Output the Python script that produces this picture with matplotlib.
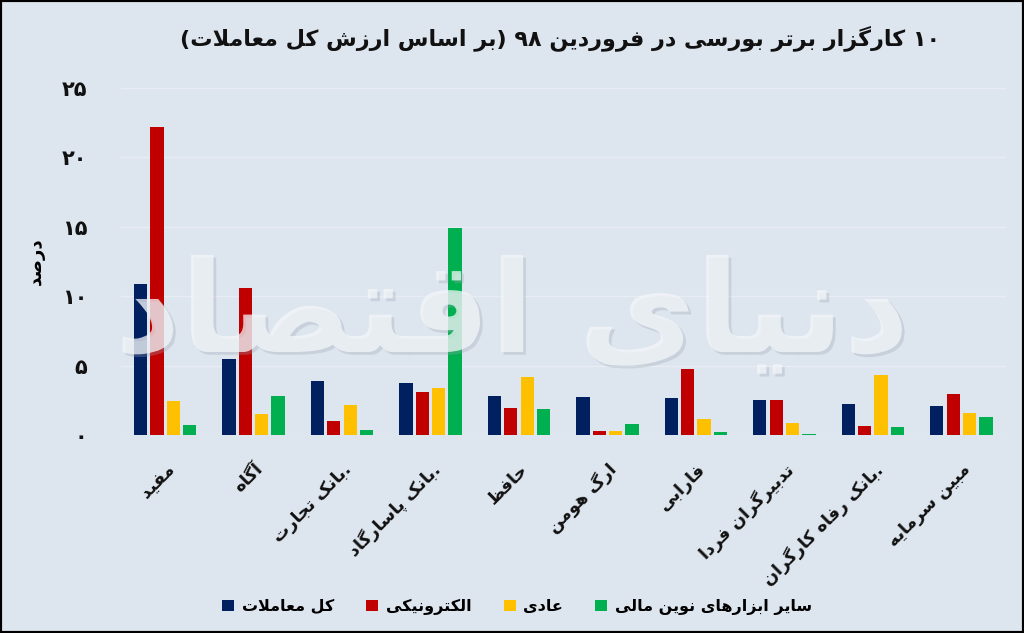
import numpy as np
import matplotlib
matplotlib.use("Agg")
import matplotlib.pyplot as plt
from matplotlib.patches import Rectangle
import matplotlib.patheffects as pe

# --- minimal persian shaping (no arabic_reshaper available) ---
# letter: (isolated, final, initial, medial); 2-tuples only join to the right
FORMS = {
    'ا': (0xFE8D, 0xFE8E), 'آ': (0xFE81, 0xFE82), 'د': (0xFEA9, 0xFEAA),
    'ذ': (0xFEAB, 0xFEAC), 'ر': (0xFEAD, 0xFEAE), 'ز': (0xFEAF, 0xFEB0),
    'ژ': (0xFB8A, 0xFB8B), 'و': (0xFEED, 0xFEEE),
    'ب': (0xFE8F, 0xFE90, 0xFE91, 0xFE92), 'پ': (0xFB56, 0xFB57, 0xFB58, 0xFB59),
    'ت': (0xFE95, 0xFE96, 0xFE97, 0xFE98), 'ث': (0xFE99, 0xFE9A, 0xFE9B, 0xFE9C),
    'ج': (0xFE9D, 0xFE9E, 0xFE9F, 0xFEA0), 'چ': (0xFB7A, 0xFB7B, 0xFB7C, 0xFB7D),
    'ح': (0xFEA1, 0xFEA2, 0xFEA3, 0xFEA4), 'خ': (0xFEA5, 0xFEA6, 0xFEA7, 0xFEA8),
    'س': (0xFEB1, 0xFEB2, 0xFEB3, 0xFEB4), 'ش': (0xFEB5, 0xFEB6, 0xFEB7, 0xFEB8),
    'ص': (0xFEB9, 0xFEBA, 0xFEBB, 0xFEBC), 'ض': (0xFEBD, 0xFEBE, 0xFEBF, 0xFEC0),
    'ط': (0xFEC1, 0xFEC2, 0xFEC3, 0xFEC4), 'ظ': (0xFEC5, 0xFEC6, 0xFEC7, 0xFEC8),
    'ع': (0xFEC9, 0xFECA, 0xFECB, 0xFECC), 'غ': (0xFECD, 0xFECE, 0xFECF, 0xFED0),
    'ف': (0xFED1, 0xFED2, 0xFED3, 0xFED4), 'ق': (0xFED5, 0xFED6, 0xFED7, 0xFED8),
    'ک': (0xFB8E, 0xFB8F, 0xFB90, 0xFB91), 'گ': (0xFB92, 0xFB93, 0xFB94, 0xFB95),
    'ل': (0xFEDD, 0xFEDE, 0xFEDF, 0xFEE0), 'م': (0xFEE1, 0xFEE2, 0xFEE3, 0xFEE4),
    'ن': (0xFEE5, 0xFEE6, 0xFEE7, 0xFEE8), 'ه': (0xFEE9, 0xFEEA, 0xFEEB, 0xFEEC),
    'ی': (0xFBFC, 0xFBFD, 0xFBFE, 0xFBFF),
}
LAM_ALEF = {'ا': (0xFEFB, 0xFEFC), 'آ': (0xFEF5, 0xFEF6)}


def shape(s):
    out = []
    i = 0
    prev_joins = False
    while i < len(s):
        ch = s[i]
        nxt = s[i + 1] if i + 1 < len(s) else ''
        if ch == 'ل' and nxt in LAM_ALEF:
            out.append(chr(LAM_ALEF[nxt][1 if prev_joins else 0]))
            prev_joins = False
            i += 2
            continue
        if ch not in FORMS:
            out.append(ch)
            prev_joins = False
            i += 1
            continue
        f = FORMS[ch]
        joins_next = len(f) == 4 and nxt in FORMS
        if prev_joins and joins_next:
            out.append(chr(f[3]))
        elif prev_joins:
            out.append(chr(f[1]))
        elif joins_next:
            out.append(chr(f[2]))
        else:
            out.append(chr(f[0]))
        prev_joins = len(f) == 4
        i += 1
    return ''.join(out)


def fa(s):
    # shape, then lay out right-to-left (digit runs keep their order)
    tokens = []
    for ch in shape(s):
        if ch.isdigit() and tokens and tokens[-1][-1].isdigit():
            tokens[-1] += ch
        else:
            tokens.append(ch)
    mirror = {'(': ')', ')': '('}
    return ''.join(mirror.get(t, t) for t in reversed(tokens))


# --- data ---
brokers = ['مفید', 'آگاه', '.بانک تجارت', '.بانک پاسارگاد', 'حافظ', 'ارگ هومن',
           'فارابی', 'تدبیرگران فردا', '.بانک رفاه کارگران', 'مبین سرمایه']
series_names = ['کل معاملات', 'الکترونیکی', 'عادی', 'سایر ابزارهای نوین مالی']
total = [10.9, 5.5, 3.9, 3.75, 2.8, 2.75, 2.65, 2.5, 2.2, 2.1]
electronic = [22.2, 10.6, 1.0, 3.1, 1.95, 0.3, 4.75, 2.5, 0.65, 2.95]
normal = [2.45, 1.5, 2.15, 3.4, 4.2, 0.3, 1.15, 0.85, 4.3, 1.6]
other = [0.7, 2.8, 0.35, 14.9, 1.9, 0.8, 0.2, 0.1, 0.55, 1.3]
yticks = [0, 5, 10, 15, 20, 25]

colors = ['#002060', '#c00000', '#ffc000', '#00b050']
bg = '#dde5ee'

plt.rcParams['font.family'] = ['DejaVu Sans']
fig = plt.figure(figsize=(10.24, 6.33), dpi=100, facecolor=bg)
ax = fig.add_axes([0.118, 0.3128, 0.864, 0.5482])
ax.set_facecolor(bg)

x = np.arange(len(brokers))
step = 0.185
width = 0.15
for k, vals in enumerate([total, electronic, normal, other]):
    ax.bar(x + (k - 1.5) * step, vals, width, color=colors[k],
           label=fa(series_names[k]), zorder=3)

ax.set_xlim(-0.5, len(brokers) - 0.5)
ax.set_ylim(0, 25)
ax.set_yticks(yticks)
fa_digits = str.maketrans('0123456789', '۰۱۲۳۴۵۶۷۸۹')
ax.set_yticklabels([str(v).translate(fa_digits) for v in yticks],
                   fontsize=15, fontweight='bold', color='#111111')
ax.set_xticks(x)
ax.set_xticklabels([fa(b) for b in brokers], rotation=45, ha='right',
                   rotation_mode='anchor', fontsize=12.5, fontweight='bold',
                   color='#111111')
ax.tick_params(axis='both', length=0)
ax.tick_params(axis='y', pad=24)
ax.tick_params(axis='x', pad=18)
for sp in ax.spines.values():
    sp.set_visible(False)
ax.yaxis.grid(True, color='#e8edf4', linewidth=1, zorder=0)
ax.set_axisbelow(True)

ax.set_ylabel(fa('درصد'), fontsize=13, fontweight='bold', labelpad=12)

# watermark
fig.text(0.5, 0.50, fa('دنیای اقتصاد'), fontsize=92, fontweight='bold',
         color='#f4f7fb', alpha=0.75, ha='center', va='center', zorder=10,
         path_effects=[pe.withSimplePatchShadow(offset=(2, -2), shadow_rgbFace='#9aa4b0', alpha=0.3)])

fig.text(0.547, 0.94, fa('۱۰ کارگزار برتر بورسی در فروردین ۹۸ (بر اساس ارزش کل معاملات)'),
         fontsize=16, fontweight='bold', ha='center', va='center', color='#111111')

fig.legend(loc='center', bbox_to_anchor=(0.505, 0.041), ncol=4, frameon=False,
           prop={'size': 11.5, 'weight': 'bold'}, handlelength=0.75, handleheight=0.75,
           columnspacing=2.0, handletextpad=0.5)

fig.patches.append(Rectangle((0, 0), 1, 1, transform=fig.transFigure,
                             fill=False, edgecolor='black', linewidth=3))

fig.savefig('out.png', dpi=100, facecolor=bg)
